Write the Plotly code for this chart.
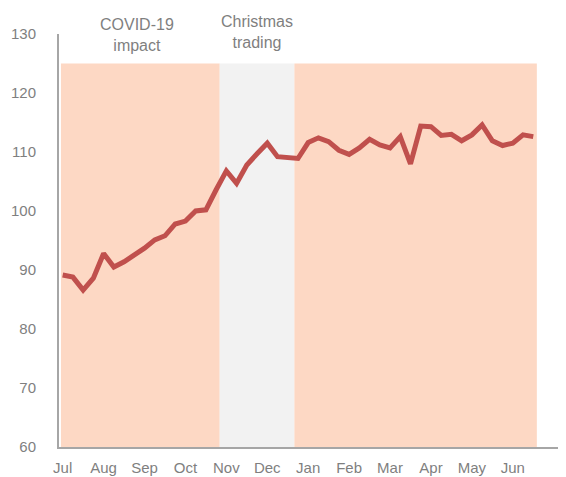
import plotly.graph_objects as go

# Weekly index values (47 weeks, Jul -> Jun)
values = [89.15, 88.8, 86.6, 88.6, 92.8, 90.5, 91.4, 92.5, 93.7, 95.1,
          95.8, 97.8, 98.3, 100.0, 100.2, 103.6, 106.8, 104.7, 107.8, 109.7,
          111.5, 109.2, 109.1, 108.9, 111.6, 112.4, 111.75, 110.3, 109.6, 110.7,
          112.15, 111.2, 110.7, 112.6, 108.0, 114.4, 114.3, 112.8, 113.0, 111.9,
          112.9, 114.6, 111.9, 111.1, 111.5, 112.9, 112.6]
weeks = list(range(len(values)))

month_labels = ["Jul", "Aug", "Sep", "Oct", "Nov", "Dec",
                "Jan", "Feb", "Mar", "Apr", "May", "Jun"]
month_ticks = [i * 4 for i in range(len(month_labels))]

y_ticks = [60, 70, 80, 90, 100, 110, 120, 130]

# shaded periods: (start, end, colour)
periods = [(-0.17, 15.35, "#FDD8C4"),
           (15.35, 22.65, "#F2F2F2"),
           (22.65, 46.35, "#FDD8C4")]
shade_top = 125

fig = go.Figure()

shapes = []
for x0, x1, col in periods:
    shapes.append(dict(type="rect", xref="x", yref="y", x0=x0, x1=x1,
                       y0=60, y1=shade_top, fillcolor=col, line_width=0,
                       layer="below"))

fig.add_trace(go.Scatter(x=weeks, y=values, mode="lines",
                         line=dict(color="#C0504D", width=5),
                         hoverinfo="skip"))

annotations = [
    dict(x=7.3, y=126.2, xref="x", yref="y", text="COVID-19<br>impact",
         showarrow=False, yanchor="bottom", align="center",
         font=dict(family="Liberation Sans, Arial", size=16, color="#7F7F7F")),
    dict(x=19.0, y=126.7, xref="x", yref="y", text="Christmas<br>trading",
         showarrow=False, yanchor="bottom", align="center",
         font=dict(family="Liberation Sans, Arial", size=16, color="#7F7F7F")),
]

fig.update_layout(
    width=566, height=477,
    margin=dict(l=51, r=8, t=26, b=38, autoexpand=False),
    paper_bgcolor="white", plot_bgcolor="white",
    showlegend=False,
    shapes=shapes,
    annotations=annotations,
    font=dict(family="Liberation Sans, Arial", size=15, color="#7F7F7F"),
)
fig.update_xaxes(range=[-0.36, 49.2], tickvals=month_ticks, ticktext=month_labels,
                 showgrid=False, zeroline=False, showline=True,
                 linecolor="#A6A6A6", linewidth=2, ticks="",
                 ticklabelstandoff=6,
                 tickfont=dict(size=15, color="#7F7F7F"))
fig.update_yaxes(range=[60, 130], tickvals=y_ticks,
                 showgrid=False, zeroline=False, showline=True,
                 linecolor="#A6A6A6", linewidth=2, ticks="",
                 ticklabelstandoff=18,
                 tickfont=dict(size=15, color="#7F7F7F"))

fig.write_html("out.html")
